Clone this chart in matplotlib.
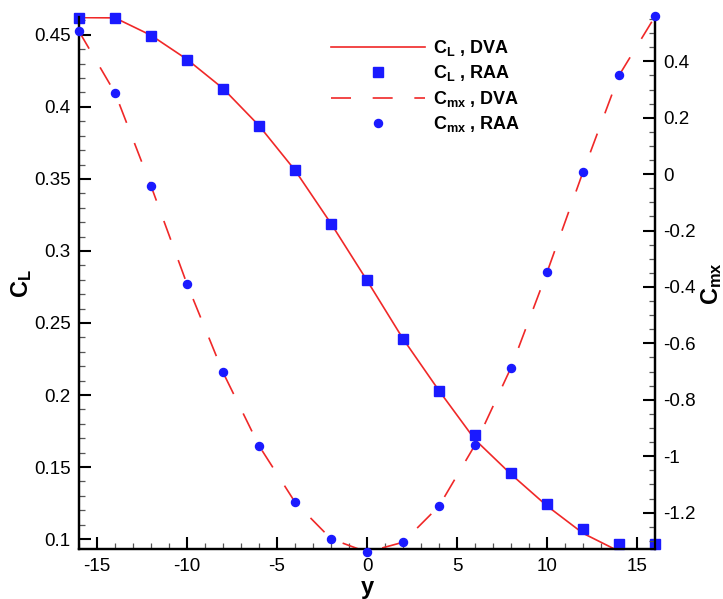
import matplotlib
matplotlib.use("Agg")
import matplotlib.pyplot as plt
from matplotlib.ticker import MultipleLocator
from matplotlib.lines import Line2D

plt.rcParams['font.family'] = ['Liberation Sans', 'DejaVu Sans']
plt.rcParams['mathtext.fontset'] = 'custom'
plt.rcParams['mathtext.rm'] = 'Liberation Sans:bold'
plt.rcParams['mathtext.default'] = 'rm'
plt.rcParams['axes.unicode_minus'] = False

# spanwise stations
y = [-16, -14, -12, -10, -8, -6, -4, -2, 0, 2, 4, 6, 8, 10, 12, 14, 16]

# lift coefficient
cl_dva = [0.4620, 0.4618, 0.4497, 0.4330, 0.4128, 0.3870, 0.3560, 0.3190, 0.2795,
          0.2390, 0.2030, 0.1690, 0.1450, 0.1230, 0.1040, 0.0915, 0.0890]
cl_raa = [0.4617, 0.4617, 0.4495, 0.4327, 0.4127, 0.3870, 0.3560, 0.3190, 0.2800,
          0.2390, 0.2030, 0.1720, 0.1460, 0.1240, 0.1072, 0.0965, 0.0965]

# rolling moment coefficient
cmx_dva = [0.506, 0.288, -0.042, -0.390, -0.703, -0.963, -1.163, -1.293, -1.340,
           -1.305, -1.177, -0.960, -0.686, -0.348, 0.008, 0.350, 0.559]
cmx_raa = [0.506, 0.288, -0.042, -0.390, -0.703, -0.963, -1.163, -1.293, -1.340,
           -1.305, -1.177, -0.960, -0.686, -0.348, 0.008, 0.350, 0.559]

red = '#f02828'
blue = '#1a1aff'

fig = plt.figure(figsize=(7.23, 5.99), dpi=100)
ax = fig.add_axes([0.1093, 0.083, 0.7967, 0.8886])
ax2 = ax.twinx()

ax.plot(y, cl_dva, '-', color=red, lw=1.2, zorder=2)
ax.plot(y, cl_raa, 's', color=blue, ms=6.5, mec=blue, clip_on=False, zorder=3)
ax2.plot(y, cmx_dva, color=red, lw=1.2, dashes=(12, 13), zorder=2)
ax2.plot(y, cmx_raa, 'o', color=blue, ms=5.8, mec=blue, clip_on=False, zorder=3)

ax.set_xlim(-16, 16)
ax.set_ylim(0.0929, 0.4624)
ax2.set_ylim(-1.330, 0.557)

ax.xaxis.set_major_locator(MultipleLocator(5))
ax.xaxis.set_minor_locator(MultipleLocator(1))
ax.yaxis.set_major_locator(MultipleLocator(0.05))
ax.yaxis.set_minor_locator(MultipleLocator(0.01))
ax2.yaxis.set_major_locator(MultipleLocator(0.2))
ax2.yaxis.set_minor_locator(MultipleLocator(0.05))

ax.yaxis.set_major_formatter(plt.FuncFormatter(lambda v, p: ('%g' % round(v, 3))))
ax2.yaxis.set_major_formatter(plt.FuncFormatter(lambda v, p: ('%g' % round(v, 3))))

for a in (ax, ax2):
    a.spines['top'].set_visible(False)
    for s in a.spines.values():
        s.set_linewidth(1.6)
    a.tick_params(which='major', direction='in', length=8.5, width=1.5, labelsize=13.5, pad=6)
    a.tick_params(which='minor', direction='in', length=4.5, width=0.9, color='#555555')
ax.tick_params(axis='both', which='both', top=False, right=False)
ax2.tick_params(axis='y', which='both', left=False, right=True)

ax.set_xlabel('y', fontsize=17, fontweight='bold', labelpad=1)
ax.set_ylabel(r'C$_{\mathrm{L}}$', fontsize=17, fontweight='bold', labelpad=0)
ax2.set_ylabel(r'C$_{\mathrm{mx}}$', fontsize=17, fontweight='bold', labelpad=2)

handles = [
    Line2D([], [], color=red, lw=1.2),
    Line2D([], [], ls='none', marker='s', color=blue, ms=6.5),
    Line2D([], [], color=red, lw=1.2, dashes=(12, 13)),
    Line2D([], [], ls='none', marker='o', color=blue, ms=5.8),
]
labels = [r'C$_{\mathrm{L}}$ , DVA', r'C$_{\mathrm{L}}$ , RAA',
          r'C$_{\mathrm{mx}}$ , DVA', r'C$_{\mathrm{mx}}$ , RAA']
leg = ax2.legend(handles, labels, loc='upper left', bbox_to_anchor=(0.425, 0.974),
                 frameon=False, handlelength=5.2, handletextpad=0.45,
                 labelspacing=0.3, borderaxespad=0,
                 prop={'size': 13, 'weight': 'bold'})

fig.savefig('out.png', dpi=100)
